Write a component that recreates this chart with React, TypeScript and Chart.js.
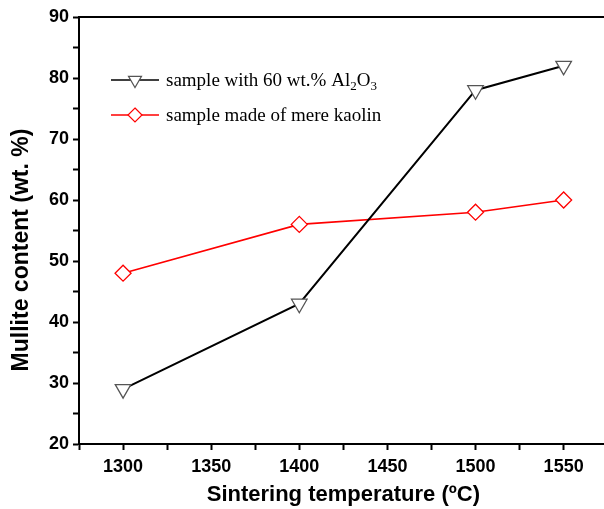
import React, { useEffect, useRef } from "react";
import { Chart, registerables } from "chart.js";

Chart.register(...registerables);

const temperatures = [1300, 1400, 1500, 1550];
const aluminaSample = [29, 43, 78, 82];
const kaolinSample = [48, 56, 58, 60];

// legend text pieces: [text, isSubscript]
const legendAlumina: [string, boolean][] = [
  ["sample with 60 wt.% Al", false],
  ["2", true],
  ["O", false],
  ["3", true],
];
const legendKaolin: [string, boolean][] = [["sample made of mere kaolin", false]];

const xTitle = "Sintering temperature (\u00baC)";
const yTitle = "Mullite content (wt. %)";

const tickFont = { family: "'Liberation Sans', Arial, sans-serif", size: 18, weight: "bold" as const };
const titleFont = { family: "'Liberation Sans', Arial, sans-serif", size: 22, weight: "bold" as const };

function drawMarker(ctx: CanvasRenderingContext2D, kind: string, x: number, y: number, r: number, color: string) {
  ctx.save();
  ctx.beginPath();
  if (kind === "tri") {
    const h = r * 0.75;
    const w = r * 0.866;
    ctx.moveTo(x - w, y - h * 0.66);
    ctx.lineTo(x + w, y - h * 0.66);
    ctx.lineTo(x, y + h * 1.33);
    ctx.closePath();
  } else {
    ctx.moveTo(x, y - r);
    ctx.lineTo(x + r, y);
    ctx.lineTo(x, y + r);
    ctx.lineTo(x - r, y);
    ctx.closePath();
  }
  ctx.fillStyle = "#fff";
  ctx.fill();
  ctx.strokeStyle = color;
  ctx.lineWidth = 1.2;
  ctx.stroke();
  ctx.restore();
}

const framePlugin = {
  id: "frameAndLegend",
  afterDraw(chart: any) {
    const ctx: CanvasRenderingContext2D = chart.ctx;
    const { left, right, top } = chart.chartArea;
    ctx.save();
    ctx.strokeStyle = "#000";
    ctx.lineWidth = 2;
    ctx.beginPath();
    ctx.moveTo(left - 1, top);
    ctx.lineTo(right, top);
    ctx.stroke();

    // y axis title
    ctx.save();
    ctx.translate(22, 250);
    ctx.rotate(-Math.PI / 2);
    ctx.font = "bold 23px 'Liberation Sans', Arial, sans-serif";
    ctx.fillStyle = "#000";
    ctx.textAlign = "center";
    ctx.textBaseline = "middle";
    ctx.fillText(yTitle, 0, 0);
    ctx.restore();

    const rows = [
      { parts: legendAlumina, line: "#000", mark: "#555", kind: "tri", y: 80 },
      { parts: legendKaolin, line: "#ff0000", mark: "#ff0000", kind: "dia", y: 115 },
    ];
    for (const row of rows) {
      ctx.strokeStyle = row.line;
      ctx.lineWidth = 1.5;
      ctx.beginPath();
      ctx.moveTo(111, row.y);
      ctx.lineTo(159, row.y);
      ctx.stroke();
      drawMarker(ctx, row.kind, 135, row.y, row.kind === "tri" ? 7.5 : 7, row.mark);
      let x = 166;
      ctx.fillStyle = "#000";
      ctx.textBaseline = "alphabetic";
      ctx.textAlign = "left";
      for (const [t, sub] of row.parts) {
        ctx.font = sub ? "13px 'Liberation Serif', serif" : "19px 'Liberation Serif', serif";
        ctx.fillText(t, x, row.y + (sub ? 10 : 6));
        x += ctx.measureText(t).width;
      }
    }
    ctx.restore();
  },
};

export default function App() {
  const ref = useRef<HTMLCanvasElement | null>(null);
  useEffect(() => {
    if (!ref.current) return;
    const chart = new Chart(ref.current, {
      type: "line",
      data: {
        datasets: [
          {
            label: "alumina",
            data: temperatures.map((t, i) => ({ x: t, y: aluminaSample[i] })),
            borderColor: "#000",
            borderWidth: 2,
            pointStyle: "triangle",
            rotation: 180,
            pointRadius: 9,
            pointBorderColor: "#555",
            pointBackgroundColor: "#fff",
            pointBorderWidth: 1.3,
          },
          {
            label: "kaolin",
            data: temperatures.map((t, i) => ({ x: t, y: kaolinSample[i] })),
            borderColor: "#ff0000",
            borderWidth: 1.6,
            pointStyle: "rectRot",
            pointRadius: 8,
            pointBorderColor: "#ff0000",
            pointBackgroundColor: "#fff",
            pointBorderWidth: 1.3,
          },
        ],
      },
      options: {
        animation: false,
        responsive: false,
        devicePixelRatio: 1,
        layout: { padding: { top: 17, right: 0, left: 0, bottom: 0 } },
        plugins: { legend: { display: false }, tooltip: { enabled: false } },
        scales: {
          x: {
            type: "linear",
            min: 1275,
            max: 1575,
            ticks: {
              stepSize: 25,
              autoSkip: false,
              maxRotation: 0,
              color: "#000",
              font: tickFont,
              padding: 6,
              callback: (v: any) => (Number(v) % 50 === 0 ? String(v) : ""),
            },
            grid: { drawOnChartArea: false, drawTicks: true, tickLength: 6, tickColor: "#000", tickWidth: 2 },
            border: { display: true, color: "#000", width: 2 },
            title: { display: true, text: xTitle, color: "#000", font: titleFont, padding: { top: 0, bottom: 1 } },
            afterFit: (s: any) => {
              s.height = 65;
            },
          },
          y: {
            min: 20,
            max: 90,
            ticks: {
              stepSize: 5,
              autoSkip: false,
              color: "#000",
              font: tickFont,
              padding: 4,
              callback: (v: any) => (Number(v) % 10 === 0 ? String(v) : ""),
            },
            grid: { drawOnChartArea: false, drawTicks: true, tickLength: 6, tickColor: "#000", tickWidth: 2 },
            border: { display: true, color: "#000", width: 2 },
            title: { display: false },
            afterFit: (s: any) => {
              s.width = 79;
            },
          },
        },
      },
      plugins: [framePlugin],
    });
    return () => chart.destroy();
  }, []);
  return (
    <div style={{ position: "fixed", left: 0, top: 0, width: 604, height: 509, overflow: "hidden", background: "#fff" }}>
      <canvas ref={ref} width={618} height={509} style={{ width: 618, height: 509, display: "block" }} />
    </div>
  );
}
